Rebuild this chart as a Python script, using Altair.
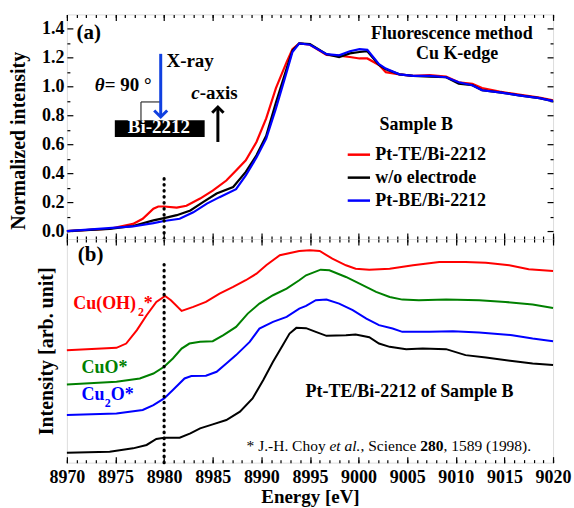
import altair as alt
import pandas as pd

FONT = "Liberation Serif, Times New Roman, DejaVu Serif, serif"

# ---------------- panel (a): normalized Cu K-edge spectra ----------------
te_E = [8970, 8974.4, 8976.8, 8977.8, 8978.9, 8979.4, 8980.0, 8981.3, 8982.3, 8983.7,
        8985.0, 8986.4, 8987.4, 8988.4, 8989.5, 8990.5, 8991.5, 8992.6, 8993.2, 8993.9,
        8995.0, 8996.7, 8998.0, 8999.1, 9000.1, 9000.9, 9002.1, 9002.8, 9004.2, 9005.6,
        9007.3, 9009.0, 9010.3, 9011.7, 9012.7, 9014.5, 9016.5, 9018.6, 9020]
te_I = [0.0, 0.016, 0.05, 0.085, 0.155, 0.17, 0.17, 0.163, 0.175, 0.225,
        0.28, 0.35, 0.42, 0.49, 0.617, 0.78, 0.99, 1.17, 1.26, 1.30,
        1.29, 1.22, 1.215, 1.205, 1.195, 1.195, 1.15, 1.10, 1.085, 1.075,
        1.08, 1.07, 1.03, 1.02, 0.99, 0.965, 0.945, 0.925, 0.905]

wo_E = [8970, 8974.4, 8976.8, 8978.9, 8980.0, 8981.3, 8982.7, 8984.0, 8985.4, 8987.1,
        8988.4, 8989.5, 8990.5, 8991.5, 8992.6, 8993.2, 8993.9, 8995.0, 8996.7, 8998.0,
        8999.1, 9000.1, 9000.9, 9002.1, 9002.8, 9004.2, 9005.6, 9007.3, 9009.0, 9010.3,
        9011.7, 9012.7, 9014.5, 9016.5, 9018.6, 9020]
wo_I = [0.0, 0.015, 0.035, 0.074, 0.09, 0.11, 0.143, 0.20, 0.26, 0.305,
        0.41, 0.525, 0.66, 0.89, 1.125, 1.25, 1.30, 1.295, 1.225, 1.205,
        1.23, 1.24, 1.245, 1.15, 1.12, 1.085, 1.075, 1.07, 1.065, 1.02,
        1.01, 0.975, 0.96, 0.94, 0.92, 0.90]

be_E = [8970, 8976.8, 8978.9, 8980.0, 8981.6, 8983.0, 8984.4, 8985.7, 8987.4, 8988.4,
        8989.5, 8990.5, 8991.5, 8992.6, 8993.2, 8993.9, 8995.0, 8996.7, 8998.0, 8999.1,
        9000.1, 9000.9, 9002.1, 9002.8, 9004.2, 9005.6, 9007.3, 9009.0, 9010.3, 9011.7,
        9012.7, 9014.5, 9016.5, 9018.6, 9020]
be_I = [0.0, 0.032, 0.055, 0.07, 0.085, 0.13, 0.19, 0.235, 0.29, 0.385,
        0.51, 0.64, 0.85, 1.10, 1.24, 1.30, 1.29, 1.225, 1.217, 1.245,
        1.26, 1.255, 1.155, 1.125, 1.085, 1.075, 1.075, 1.065, 1.03, 1.01,
        0.975, 0.96, 0.94, 0.92, 0.90]

series_names = ["Pt-TE/Bi-2212", "w/o electrode", "Pt-BE/Bi-2212"]
series_colors = ["#ff0000", "#000000", "#0000ff"]

# ---------------- panel (b): offset reference spectra ----------------
oh_E = [8970, 8975.1, 8976.1, 8977.2, 8978.2, 8979.2, 8980.1, 8980.7, 8981.8, 8983.0,
        8984.3, 8985.7, 8987.1, 8988.4, 8989.5, 8990.5, 8991.9, 8993.9, 8995.0, 8996.0,
        8997.3, 8998.7, 8999.7, 9001.1, 9003.2, 9005.6, 9008.3, 9011.0, 9013.1, 9015.5,
        9017.5, 9020]
oh_V = [11.27, 11.5, 11.93, 13.27, 14.77, 16.1, 16.7, 16.27, 15.2, 15.6,
        16.1, 16.93, 17.6, 18.27, 18.93, 19.77, 20.77, 21.2, 21.27, 21.2,
        20.43, 19.77, 19.43, 19.33, 19.43, 19.77, 20.1, 20.1, 20.03, 19.77,
        19.37, 19.2]

cuo_E = [8970, 8975.1, 8977.5, 8978.9, 8980.0, 8980.9, 8981.8, 8982.6, 8983.7, 8985.0,
         8986.1, 8987.4, 8988.6, 8989.8, 8991.2, 8992.6, 8993.9, 8994.6, 8996.1, 8997.0,
         8998.7, 9000.1, 9001.8, 9003.2, 9004.5, 9006.2, 9009.0, 9012.4, 9015.1, 9017.9,
         9020]
cuo_V = [7.83, 8.1, 8.43, 8.93, 9.6, 10.43, 11.43, 11.93, 12.1, 12.17,
         12.77, 13.6, 14.93, 15.93, 16.77, 17.43, 18.27, 18.77, 19.33, 19.27,
         18.6, 17.93, 17.1, 16.6, 16.33, 16.27, 16.33, 16.27, 16.1, 15.83,
         15.5]

cu2o_E = [8970, 8975.1, 8977.8, 8978.9, 8980.0, 8980.9, 8982.1, 8982.8, 8984.3, 8985.4,
          8986.4, 8987.4, 8988.8, 8989.8, 8991.2, 8992.6, 8993.9, 8994.6, 8995.6, 8996.7,
          8998.0, 8999.4, 9000.8, 9002.1, 9003.5, 9004.5, 9007.3, 9009.7, 9012.4, 9015.8,
          9017.9, 9020]
cu2o_V = [4.77, 4.93, 5.27, 5.77, 6.43, 7.27, 8.43, 8.67, 8.7, 9.1,
          9.93, 10.77, 12.1, 13.43, 14.1, 14.6, 15.43, 15.7, 16.27, 16.33,
          15.93, 15.27, 14.43, 13.77, 13.43, 13.1, 13.1, 13.17, 13.03, 12.77,
          12.43, 12.17]

sb_E = [8970, 8974.4, 8976.8, 8978.2, 8979.2, 8980.0, 8981.6, 8982.7, 8983.7, 8985.0,
        8986.4, 8987.8, 8989.1, 8990.2, 8991.2, 8992.2, 8992.9, 8993.6, 8994.6, 8995.6,
        8996.7, 8998.7, 8999.7, 9001.1, 9002.1, 9003.2, 9004.9, 9006.6, 9009.0, 9011.0,
        9013.1, 9015.8, 9017.9, 9020]
sb_V = [1.0, 1.1, 1.43, 1.77, 2.37, 2.5, 2.5, 2.93, 3.43, 3.83,
        4.27, 5.1, 6.43, 8.27, 10.1, 11.77, 12.93, 13.5, 13.47, 13.1,
        12.7, 12.77, 12.83, 12.57, 11.93, 11.6, 11.37, 11.43, 11.37, 10.77,
        10.53, 10.17, 9.93, 9.77]

ref_names = ["Cu(OH)2", "CuO", "Cu2O", "Pt-TE/Bi-2212"]
ref_colors = ["#ff0000", "#008000", "#0000ff", "#000000"]

# ---------------- ticks ----------------
x_major = [8970, 8975, 8980, 8985, 8990, 8995, 9000, 9005, 9010, 9015, 9020]
x_minor = list(range(8970, 9021))
y_major = [0.0, 0.2, 0.4, 0.6, 0.8, 1.0, 1.2, 1.4]
y_minor = [0.1, 0.3, 0.5, 0.7, 0.9, 1.1, 1.3]

# ---------------- annotations (data units) ----------------
a_bold_t = ["(a)", "X-ray", "= 90 °", "-axis", "Fluorescence method", "Cu K-edge"]
a_bold_E = [8971.0, 8980.24, 8973.9, 8983.66, 9001.28, 9005.9]
a_bold_I = [1.331, 1.137, 0.968, 0.913, 1.333, 1.190]
a_bold_s = [21, 19, 19, 19, 18, 18]
a_ital_t = ["θ", "c"]
a_ital_E = [8972.87, 8982.8]
a_ital_I = [0.968, 0.913]

b_text_t = ["(b)", "Cu(OH)", "2", "*", "CuO*", "Cu", "2", "O*", "Pt-TE/Bi-2212 of Sample B"]
b_text_E = [8971.13, 8970.65, 8977.32, 8977.91, 8971.51, 8971.51, 8973.9, 8974.52, 8994.54]
b_text_V = [20.2, 15.43, 14.7, 15.43, 8.93, 6.3, 5.6, 6.3, 6.53]
b_text_c = ["#000000", "#ff0000", "#ff0000", "#ff0000", "#008000", "#0000ff", "#0000ff", "#0000ff", "#000000"]
b_text_s = [21, 18, 12, 18, 18, 18, 12, 18, 18]

cite_reg_t = ["* J.-H. Choy", ", Science", ", 1589 (1998)."]
cite_reg_E = [8988.48, 9000.20, 9008.73]
cite_it_t, cite_it_E = ["et al."], [8997.01]
cite_bd_t, cite_bd_E = ["280"], [9006.35]
cite_V = 1.2

# ---------------- data frames ----------------
df_a = pd.concat([pd.DataFrame({"E": e, "I": i, "series": n})
                  for e, i, n in zip([te_E, wo_E, be_E], [te_I, wo_I, be_I], series_names)])
df_b = pd.concat([pd.DataFrame({"E": e, "V": v, "name": n, "col": c})
                  for e, v, n, c in zip([oh_E, cuo_E, cu2o_E, sb_E], [oh_V, cuo_V, cu2o_V, sb_V],
                                        ref_names, ref_colors)])

xs = alt.Scale(domain=[8970, 9020], nice=False, zero=False)
ys_a = alt.Scale(domain=[-0.055, 1.5], nice=False, zero=False)
ys_b = alt.Scale(domain=[0, 22.4], nice=False, zero=False)

LBL = dict(labels=True, labelFont=FONT, labelFontSize=18, labelFontWeight="bold",
           labelColor="black", labelFlush=False, labelOverlap=False)
TTL = dict(titleFont=FONT, titleFontWeight="bold", titleColor="black")


def ax(orient, values, size, **kw):
    d = dict(orient=orient, values=values, tickSize=size, offset=-size, domain=False,
             grid=False, ticks=True, tickColor="black", tickWidth=1.2, labels=False, title=None)
    d.update(kw)
    return alt.Axis(**d)


def ghost(df, yfield, yscale, xax, yax):
    return alt.Chart(df).mark_line(strokeOpacity=0).encode(
        x=alt.X("E:Q", scale=xs, axis=xax),
        y=alt.Y(yfield, scale=yscale, axis=yax))


def xa(field="E:Q"):
    return alt.X(field, scale=xs, axis=None)


# ---------------- panel (a) ----------------
lines_a = alt.Chart(df_a).mark_line(strokeWidth=2.2).encode(
    x=alt.X("E:Q", scale=xs, axis=ax("bottom", x_major, 6)),
    y=alt.Y("I:Q", scale=ys_a, axis=ax("left", y_major, 6, format=".1f", labelPadding=3,
                                        title="Normalized intensity", titleFontSize=20,
                                        titleX=-54, titleY=126, titleBaseline="middle",
                                        titleAngle=270, **LBL, **TTL)),
    color=alt.Color("series:N", scale=alt.Scale(domain=series_names, range=series_colors),
                    legend=alt.Legend(title="Sample B", orient="none", legendX=280, legendY=102,
                                      direction="vertical", symbolType="stroke", symbolSize=500,
                                      symbolStrokeWidth=2.5, labelFont=FONT, labelFontSize=18,
                                      labelFontWeight="bold", labelColor="black", titleFont=FONT,
                                      titleFontSize=18, titleFontWeight="bold", titleColor="black",
                                      titleAnchor="middle", titlePadding=8, labelOffset=4,
                                      rowPadding=1, padding=0)),
)
g_a1 = ghost(df_a, "I:Q", ys_a, ax("bottom", x_minor, 3), ax("left", y_minor, 3))
g_a2 = ghost(df_a, "I:Q", ys_a, ax("top", x_major, 6), ax("right", y_major, 6))
g_a3 = ghost(df_a, "I:Q", ys_a, ax("top", x_minor, 3), ax("right", y_minor, 3))

ya = lambda f="I:Q": alt.Y(f, scale=ys_a, axis=None)

dot_a = alt.Chart(pd.DataFrame({"E": [8980], "I": [-0.055], "I2": [0.374]})).mark_rule(
    color="black", strokeWidth=3.2, strokeDash=[0.5, 5.5], strokeCap="round").encode(
    x=xa(), y=ya(), y2="I2:Q")

box_a = alt.Chart(pd.DataFrame({"E": [8974.93], "E2": [8984.17], "I": [0.651], "I2": [0.767]})).mark_rect(
    color="black").encode(x=xa(), x2="E2:Q", y=ya(), y2="I2:Q")

bracket = alt.Chart(pd.DataFrame({"E": [8977.62, 8977.62], "E2": [8977.62, 8979.65],
                                  "I": [0.769, 0.894], "I2": [0.894, 0.894]})).mark_rule(
    color="#333333", strokeWidth=1.2).encode(x=xa(), x2="E2:Q", y=ya(), y2="I2:Q")

blue_shaft = alt.Chart(pd.DataFrame({"E": [8979.65], "I": [1.227], "I2": [0.80]})).mark_rule(
    color="#1040e0", strokeWidth=3).encode(x=xa(), y=ya(), y2="I2:Q")
blue_head = alt.Chart(pd.DataFrame({"E": [8979.65], "I": [0.790]})).mark_point(
    shape="M-1,-1L0,0L1,-1", filled=False, color="#1040e0", strokeWidth=3, size=170, opacity=1).encode(
    x=xa(), y=ya())
black_shaft = alt.Chart(pd.DataFrame({"E": [8985.53], "I": [0.617], "I2": [0.852]})).mark_rule(
    color="black", strokeWidth=3).encode(x=xa(), y=ya(), y2="I2:Q")
black_head = alt.Chart(pd.DataFrame({"E": [8985.53], "I": [0.859]})).mark_point(
    shape="M-1,1L0,0L1,1", filled=False, color="black", strokeWidth=3, size=130, opacity=1).encode(
    x=xa(), y=ya())

txt_a = alt.Chart(pd.DataFrame({"E": a_bold_E, "I": a_bold_I, "t": a_bold_t, "s": a_bold_s})).mark_text(
    font=FONT, fontWeight="bold", align="left", baseline="alphabetic", color="black").encode(
    x=xa(), y=ya(), text="t:N", size=alt.Size("s:Q", scale=None))
ital_a = alt.Chart(pd.DataFrame({"E": a_ital_E, "I": a_ital_I, "t": a_ital_t})).mark_text(
    font=FONT, fontWeight="bold", fontStyle="italic", align="left", baseline="alphabetic",
    color="black", fontSize=19).encode(x=xa(), y=ya(), text="t:N")
bi_txt = alt.Chart(pd.DataFrame({"E": [8976.26], "I": [0.681], "t": ["Bi-2212"]})).mark_text(
    font=FONT, fontWeight="bold", align="left", baseline="alphabetic", color="white",
    fontSize=19).encode(x=xa(), y=ya(), text="t:N")

top = alt.layer(lines_a, g_a1, g_a2, g_a3, dot_a, box_a, bracket, blue_shaft, blue_head,
                black_shaft, black_head, txt_a, ital_a, bi_txt).resolve_axis(
    x="independent", y="independent").properties(width=487, height=225)

# ---------------- panel (b) ----------------
yb = lambda f="V:Q": alt.Y(f, scale=ys_b, axis=None)

lines_b = alt.Chart(df_b).mark_line(strokeWidth=2).encode(
    x=alt.X("E:Q", scale=xs, axis=ax("bottom", x_major, 6, format="d", labelPadding=6,
                                      title="Energy [eV]", titleFontSize=19, titlePadding=1,
                                      **LBL, **TTL)),
    y=alt.Y("V:Q", scale=ys_b, axis=alt.Axis(domain=False, ticks=False, labels=False, grid=False,
                                             title="Intensity [arb. unit]", titleFontSize=20,
                                             titlePadding=10, **TTL)),
    color=alt.Color("col:N", scale=None),
    detail="name:N",
)
g_b1 = ghost(df_b, "V:Q", ys_b, ax("bottom", x_minor, 3), None)
g_b2 = ghost(df_b, "V:Q", ys_b, ax("top", x_major, 6), None)
g_b3 = ghost(df_b, "V:Q", ys_b, ax("top", x_minor, 3), None)

dot_b = alt.Chart(pd.DataFrame({"E": [8980], "V": [0.0], "V2": [20.1]})).mark_rule(
    color="black", strokeWidth=3.2, strokeDash=[0.5, 5.5], strokeCap="round").encode(
    x=xa(), y=yb(), y2="V2:Q")

txt_b = alt.Chart(pd.DataFrame({"E": b_text_E, "V": b_text_V, "t": b_text_t, "c": b_text_c,
                                "s": b_text_s})).mark_text(
    font=FONT, fontWeight="bold", align="left", baseline="alphabetic").encode(
    x=xa(), y=yb(), text="t:N", color=alt.Color("c:N", scale=None), size=alt.Size("s:Q", scale=None))

cite_reg = alt.Chart(pd.DataFrame({"E": cite_reg_E, "V": cite_V, "t": cite_reg_t})).mark_text(
    font=FONT, align="left", baseline="alphabetic", color="black", fontSize=15.5).encode(
    x=xa(), y=yb(), text="t:N")
cite_it = alt.Chart(pd.DataFrame({"E": cite_it_E, "V": cite_V, "t": cite_it_t})).mark_text(
    font=FONT, fontStyle="italic", align="left", baseline="alphabetic", color="black",
    fontSize=15.5).encode(x=xa(), y=yb(), text="t:N")
cite_bd = alt.Chart(pd.DataFrame({"E": cite_bd_E, "V": cite_V, "t": cite_bd_t})).mark_text(
    font=FONT, fontWeight="bold", align="left", baseline="alphabetic", color="black",
    fontSize=15.5).encode(x=xa(), y=yb(), text="t:N")

bottom = alt.layer(lines_b, g_b1, g_b2, g_b3, dot_b, txt_b, cite_reg, cite_it, cite_bd).resolve_axis(
    x="independent", y="independent").properties(width=487, height=224)

chart = alt.vconcat(top, bottom, spacing=0, bounds="flush").resolve_scale(
    color="independent").properties(
    padding={"left": 8, "top": 12, "right": 2, "bottom": 0}
).configure_view(stroke="black", strokeWidth=1.3).configure(font=FONT)

chart.save("out.html", embed_options={"renderer": "svg", "actions": False})
